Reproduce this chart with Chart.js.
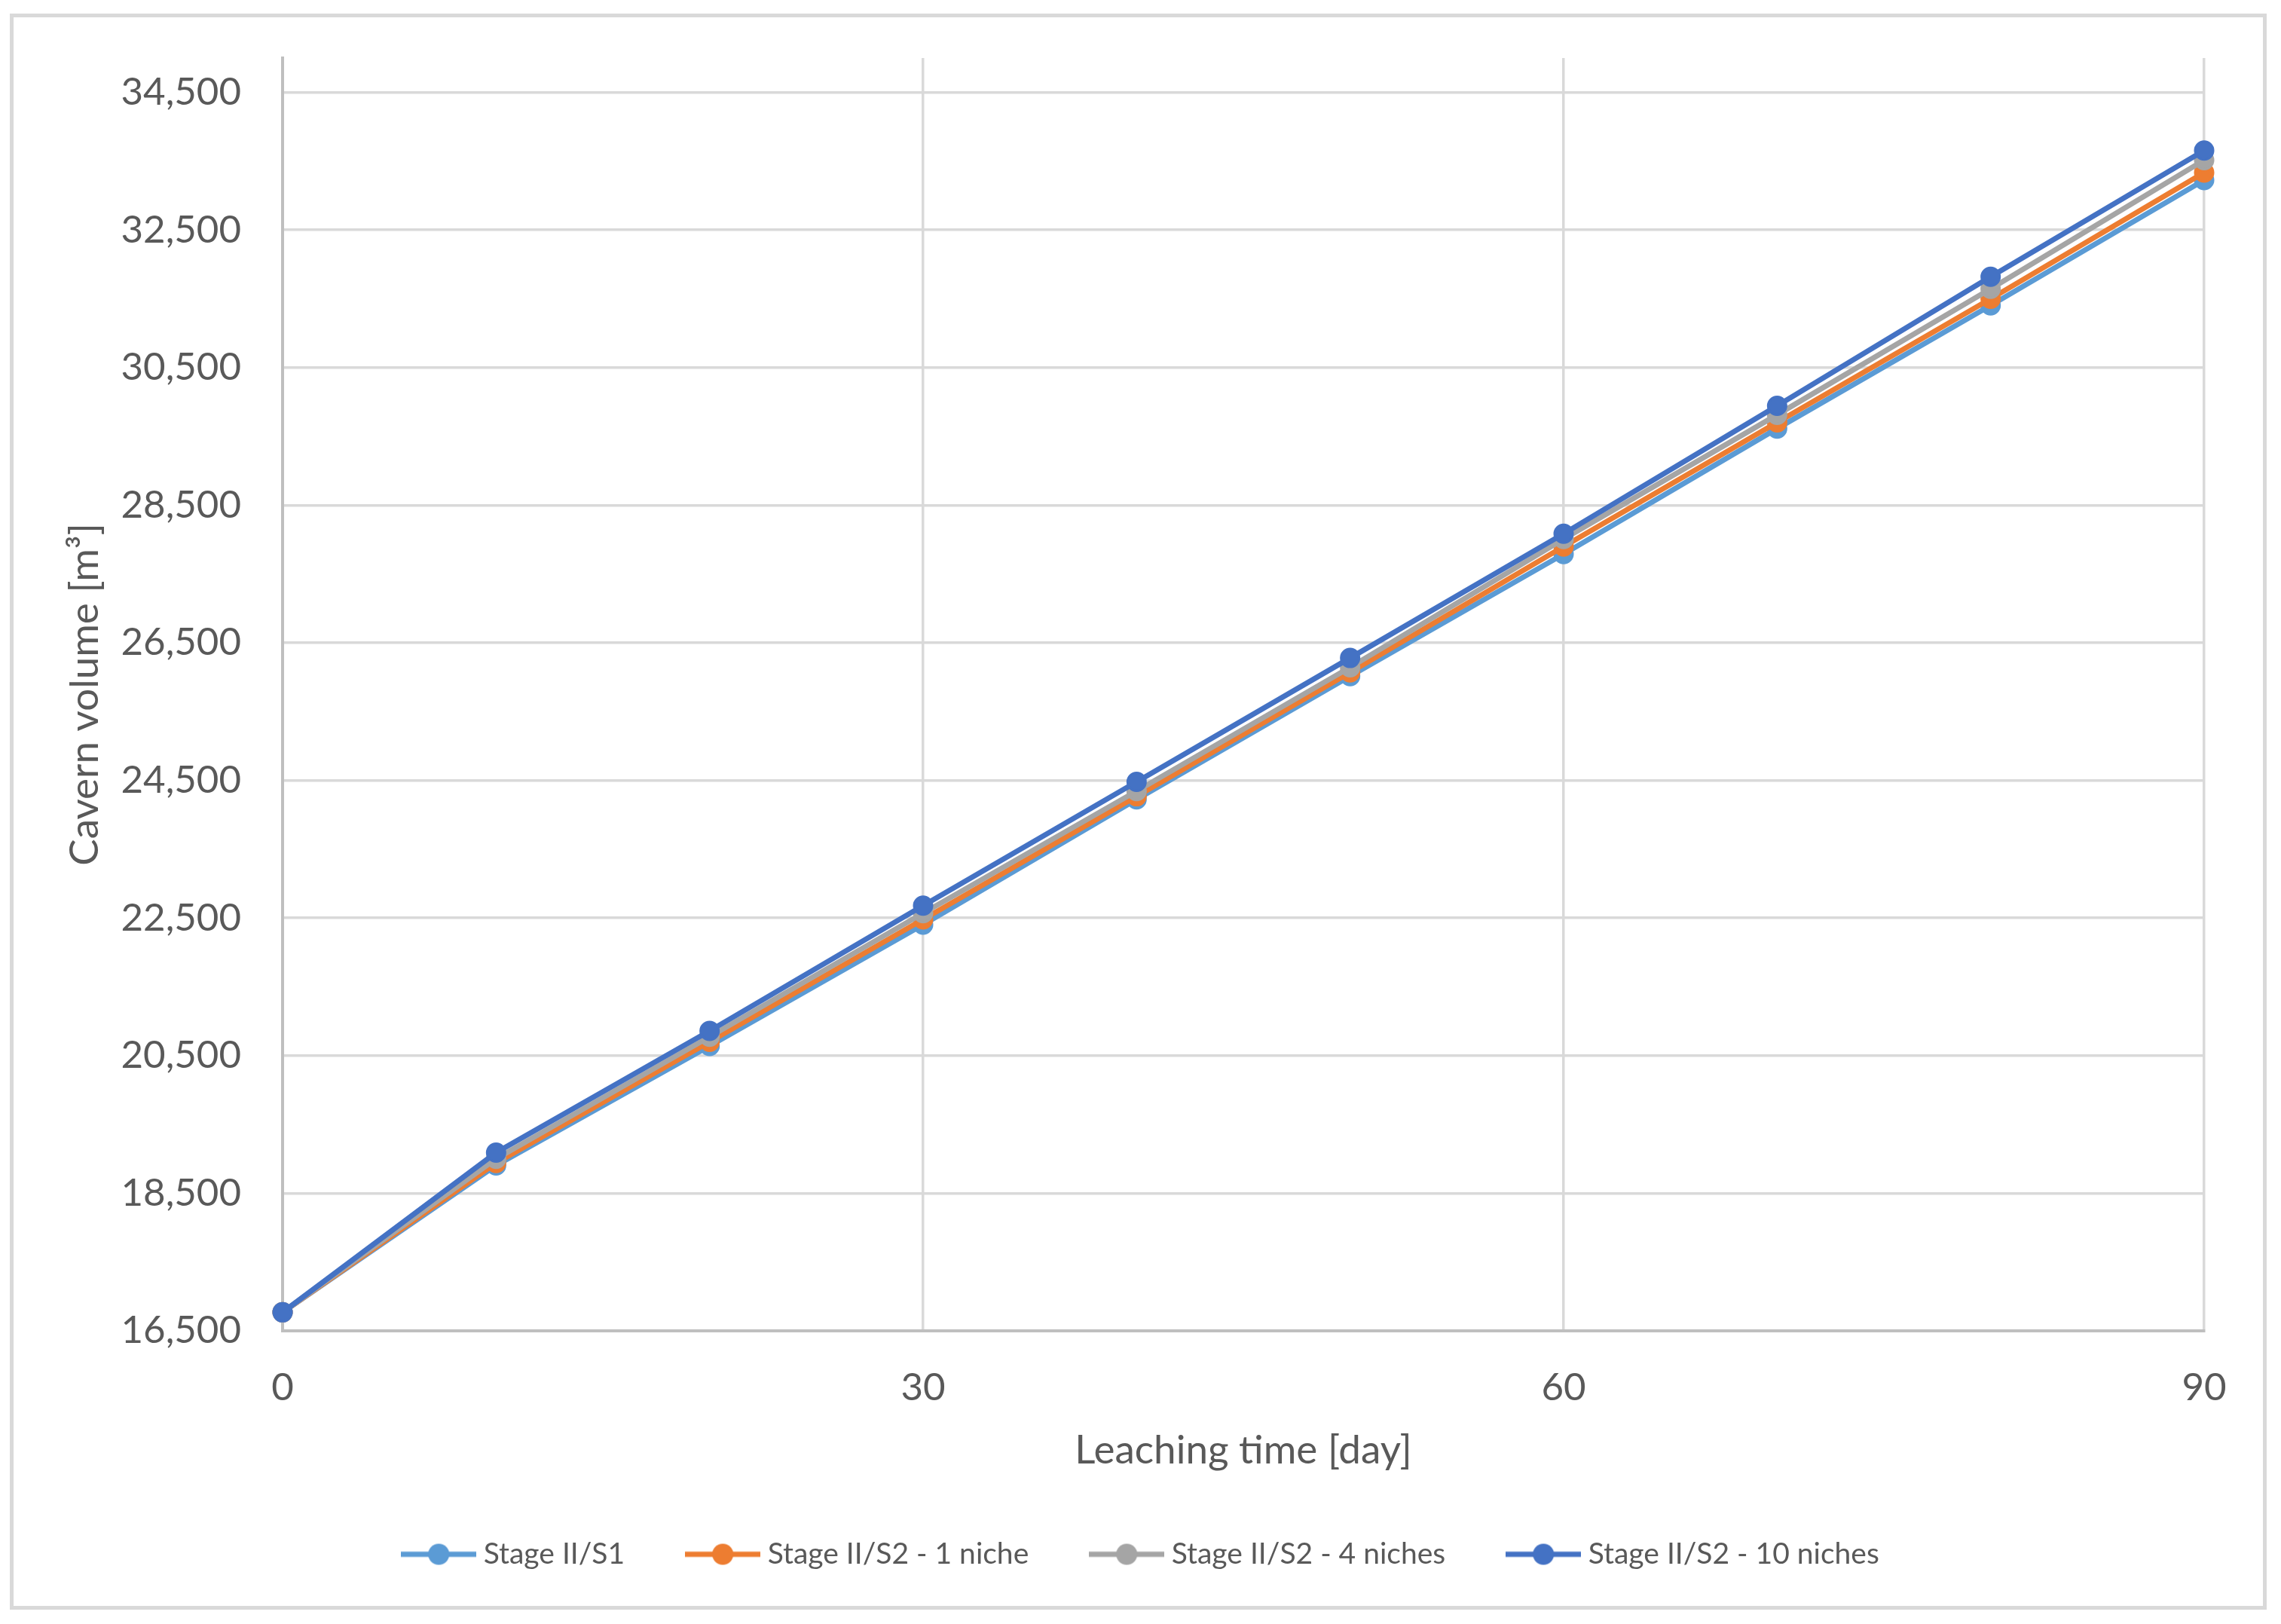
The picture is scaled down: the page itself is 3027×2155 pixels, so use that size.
<!DOCTYPE html>
<html>
<head>
<meta charset="utf-8">
<script src="https://cdn.jsdelivr.net/npm/chart.js@4.4.1/dist/chart.umd.min.js"></script>
<style>
  html, body { margin: 0; padding: 0; background: #fff; }
  #wrap { position: relative; width: 3027px; height: 2155px; }
</style>
</head>
<body>
<div id="wrap"><canvas id="chart" width="3027" height="2155"></canvas></div>
<script>
// leaching time [day]
const days = [0, 10, 20, 30, 40, 50, 60, 70, 80, 90];
// cavern volume [m3] for each case
const stageS1 = [16770, 18905, 20640, 22405, 24225, 26015, 27790, 29615, 31405, 33225];
const stageS2oneNiche = [16770, 18940, 20700, 22480, 24270, 26070, 27900, 29705, 31500, 33335];
const stageS2fourNiches = [16770, 19000, 20775, 22570, 24345, 26145, 28010, 29815, 31645, 33515];
const stageS2tenNiches = [16770, 19090, 20860, 22680, 24480, 26280, 28085, 29945, 31820, 33655];

const seriesNames = ['Stage II/S1', 'Stage II/S2 - 1 niche', 'Stage II/S2 - 4 niches', 'Stage II/S2 - 10 niches'];
const seriesColors = ['#5B9BD5', '#ED7D31', '#A5A5A5', '#4472C4'];
const yTickValues = [16500, 18500, 20500, 22500, 24500, 26500, 28500, 30500, 32500, 34500];
const xTickValues = [0, 30, 60, 90];

const textColor = '#595959';
Chart.defaults.font.family = 'Lato';
Chart.defaults.color = textColor;

// legend swatch: line with a marker in the middle, like Excel
function swatch(color) {
  const c = document.createElement('canvas');
  c.width = 100; c.height = 30;
  const g = c.getContext('2d');
  g.strokeStyle = color;
  g.lineWidth = 7;
  g.beginPath(); g.moveTo(0, 15); g.lineTo(100, 15); g.stroke();
  g.fillStyle = color;
  g.beginPath(); g.arc(50, 15, 14, 0, Math.PI * 2); g.fill();
  return c;
}
const swatches = seriesColors.map(swatch);

const allSeries = [stageS1, stageS2oneNiche, stageS2fourNiches, stageS2tenNiches];
const datasets = allSeries.map((vals, i) => ({
  label: seriesNames[i],
  data: days.map((d, k) => ({ x: d, y: vals[k] })),
  borderColor: seriesColors[i],
  backgroundColor: seriesColors[i],
  pointBackgroundColor: seriesColors[i],
  pointBorderColor: seriesColors[i],
  borderWidth: 7,
  pointRadius: 12,
  pointBorderWidth: 3,
  tension: 0,
  clip: false,
  order: allSeries.length - i   // later series drawn on top
}));

// outer chart border
const frame = {
  id: 'frame',
  beforeDraw(chart) {
    const ctx = chart.ctx;
    ctx.save();
    ctx.fillStyle = '#fff';
    ctx.fillRect(0, 0, chart.width, chart.height);
    ctx.strokeStyle = '#d9d9d9';
    ctx.lineWidth = 5;
    ctx.strokeRect(15.5, 20.5, 2990, 2113);
    ctx.restore();
  }
};

new Chart(document.getElementById('chart'), {
  type: 'line',
  data: { datasets: datasets },
  plugins: [frame],
  options: {
    responsive: false,
    animation: false,
    layout: { padding: { left: 111, right: 102, top: 77, bottom: 63 } },
    plugins: {
      tooltip: { enabled: false },
      legend: {
        position: 'bottom',
        labels: {
          usePointStyle: true,
          pointStyleWidth: 80,
          boxHeight: 30,
          padding: 90,
          font: { size: 39 },
          color: textColor,
          generateLabels: chart => chart.data.datasets.map((ds, i) => ({
            text: ds.label,
            fillStyle: ds.borderColor,
            strokeStyle: ds.borderColor,
            lineWidth: 0,
            pointStyle: swatches[i],
            fontColor: textColor,
            hidden: false,
            datasetIndex: i
          }))
        }
      }
    },
    scales: {
      x: {
        type: 'linear',
        min: 0,
        max: 90,
        afterBuildTicks: s => { s.ticks = xTickValues.map(v => ({ value: v })); },
        afterFit: s => { s.height = 187; s.paddingLeft = 0; s.paddingRight = 0; },
        ticks: { padding: 45, font: { size: 51 }, color: textColor },
        grid: { color: '#d9d9d9', lineWidth: 3.5, drawTicks: false },
        border: { color: '#bfbfbf', width: 4 },
        title: {
          display: true,
          text: 'Leaching time [day]',
          font: { size: 53 },
          color: textColor,
          padding: { top: 0, bottom: -4 }
        }
      },
      y: {
        type: 'linear',
        min: 16500,
        max: 35000,
        afterBuildTicks: s => { s.ticks = yTickValues.map(v => ({ value: v })); },
        afterFit: s => { s.width = 264; s.paddingTop = 0; s.paddingBottom = 0; },
        ticks: {
          padding: 55,
          font: { size: 51 },
          color: textColor,
          callback: v => v.toLocaleString('en-US')
        },
        grid: { color: '#d9d9d9', lineWidth: 3.5, drawTicks: false },
        border: { color: '#bfbfbf', width: 4 },
        title: {
          display: true,
          text: 'Cavern volume [m³]',
          font: { size: 53 },
          color: textColor,
          padding: { top: -30, bottom: 0 }
        }
      }
    }
  }
});
</script>
</body>
</html>
